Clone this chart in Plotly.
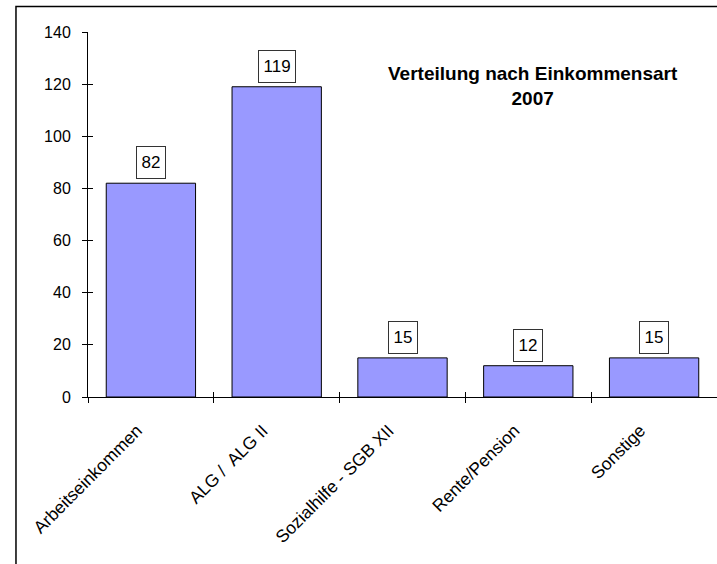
import plotly.graph_objects as go

categories = ["Arbeitseinkommen", "ALG /  ALG II", "Sozialhilfe - SGB XII", "Rente/Pension", "Sonstige"]
values = [82, 119, 15, 12, 15]
y_ticks = [0, 20, 40, 60, 80, 100, 120, 140]
title_lines = ["Verteilung nach Einkommensart", "2007"]

FONT = "Liberation Sans, Arial, sans-serif"

fig = go.Figure()
fig.add_trace(go.Bar(
    x=categories,
    y=values,
    marker=dict(color="#9999FF", line=dict(color="#000000", width=1)),
    showlegend=False,
    hoverinfo="skip",
))
# empty traces so the overlay axes get drawn
for xa in ["x2", "x3"]:
    fig.add_trace(go.Scatter(x=[None], y=[None], xaxis=xa, yaxis="y2",
                             mode="markers", showlegend=False, hoverinfo="skip"))

# value labels in small boxes above the bars
for cat, val in zip(categories, values):
    fig.add_annotation(
        x=cat, y=val, xref="x", yref="y",
        text=str(val), showarrow=False,
        yanchor="bottom", yshift=4,
        font=dict(family=FONT, size=17, color="#000000"),
        bgcolor="#FFFFFF", bordercolor="#333333", borderwidth=1,
        borderpad=4.5, height=22,
    )

fig.add_annotation(
    x=0.707, y=0.853, xref="paper", yref="paper",
    xanchor="center", yanchor="middle",
    text="<b>" + "<br>".join(title_lines) + "</b>",
    showarrow=False, align="center",
    font=dict(family=FONT, size=19, color="#000000"),
)

# outer frame (left and top edge visible)
fig.add_shape(type="rect", xref="paper", yref="paper",
              x0=-0.1145, x1=1.2, y0=-0.7, y1=1.07,
              line=dict(color="#000000", width=1.5))

n = len(categories)
label_shift = 0.11  # Excel puts the rotated label end a bit left of the slot centre
fig.update_layout(
    width=717, height=564,
    margin=dict(l=88, r=0, t=32, b=167),
    paper_bgcolor="#FFFFFF", plot_bgcolor="#FFFFFF",
    bargap=0.29,
    font=dict(family=FONT, color="#000000"),
    xaxis=dict(
        type="category", range=[-0.5, n - 0.5],
        showline=True, linecolor="#000000", linewidth=1,
        ticks="outside", ticklen=5, tickcolor="#000000", tickson="boundaries",
        showticklabels=False, automargin=False,
        showgrid=False, zeroline=False,
    ),
    yaxis=dict(
        range=[0, 140], tickvals=y_ticks,
        showline=True, linecolor="#000000", linewidth=1,
        ticks="outside", ticklen=5, tickcolor="#000000",
        tickfont=dict(family=FONT, size=16, color="#000000"),
        ticklabelstandoff=8, automargin=False,
        showgrid=False, zeroline=False,
    ),
    # overlay axes so tick marks cross the axis lines
    xaxis2=dict(
        type="linear", overlaying="x", anchor="y2", range=[-0.5, n - 0.5],
        tickvals=[i - 0.5 for i in range(n + 1)],
        ticks="inside", ticklen=5, tickcolor="#000000",
        showticklabels=False, showgrid=False, zeroline=False, showline=False,
        automargin=False,
    ),
    xaxis3=dict(
        type="linear", overlaying="x", anchor="y2", range=[-0.5, n - 0.5],
        tickvals=[i - label_shift for i in range(n)], ticktext=categories,
        ticks="", tickangle=-45, ticklabelstandoff=19, automargin=False,
        tickfont=dict(family=FONT, size=17.5, color="#000000"),
        showgrid=False, zeroline=False, showline=False,
    ),
    yaxis2=dict(
        type="linear", overlaying="y", anchor="x2", range=[0, 140], tickvals=y_ticks,
        ticks="inside", ticklen=5, tickcolor="#000000",
        showticklabels=False, showgrid=False, zeroline=False, showline=False,
        automargin=False,
    ),
)

fig.write_html(
    "out.html",
    config={"displayModeBar": False},
    post_script="document.body.style.margin='0';document.body.style.overflow='hidden';",
)
